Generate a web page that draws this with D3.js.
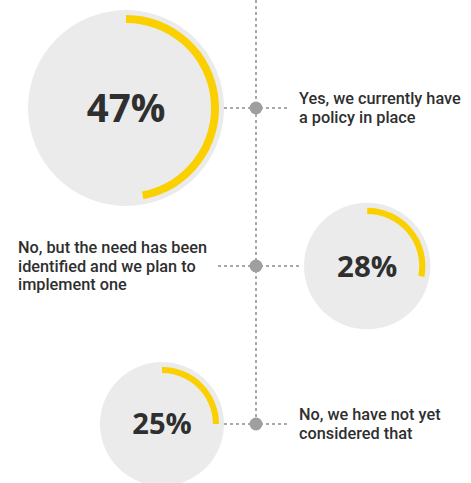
<!DOCTYPE html>
<html>
  <head>
    <meta charset="utf-8">
    <script src="https://d3js.org/d3.v7.min.js"></script>
    <title>Policy in place</title>
    <style>
      body { margin: 0px; background: #fff; }
    </style>
  </head>
  <body>
    <svg width="471" height="483"></svg>
    <script>
      // answers, top to bottom
      const answers = ['yes', 'planned', 'notYet'];
      const shares = [47, 28, 25];
      const labelLines = [
        ['Yes, we currently have', 'a policy in place'],
        ['No, but the need has been', 'identified and we plan to', 'implement one'],
        ['No, we have not yet', 'considered that']
      ];

      const svg = d3.select('svg');
      const width = +svg.attr('width');
      const height = +svg.attr('height');

      const axisX = 256;
      const gapLeft = 32, gapRight = 48;   // dot -> circle edge
      const lineH = 18.5;
      const grey = '#ebebeb', yellow = '#fad000', ink = '#2f2f2f', dash = '#a9a9a9';

      const yScale = d3.scalePoint().domain(answers).range([108, 424]);
      // circles were sized by hand in the original, not by area
      const rScale = d3.scaleLinear().domain([25, 30, 47]).range([62, 64, 98]);
      const angle = d3.scaleLinear().domain([0, 100]).range([0, 2 * Math.PI]);

      const rows = answers.map((a, i) => {
        const r = rScale(shares[i]);
        const left = i % 2 === 0;
        return {
          key: a, value: shares[i], lines: labelLines[i], r, left,
          y: yScale(a),
          cx: left ? axisX - gapLeft - r : axisX + gapRight + r
        };
      });

      // vertical dashed spine
      svg.append('line')
          .attr('x1', axisX).attr('x2', axisX)
          .attr('y1', 0).attr('y2', yScale(answers[answers.length - 1]))
          .attr('stroke', dash).attr('stroke-width', 2)
          .attr('stroke-dasharray', '3,3');

      // horizontal connectors
      svg.selectAll('line.conn').data(rows)
        .enter().append('line')
          .attr('class', 'conn')
          .attr('x1', d => d.left ? axisX - gapLeft : axisX - 38)
          .attr('x2', d => d.left ? axisX + 32 : axisX + gapRight - 2)
          .attr('y1', d => d.y).attr('y2', d => d.y)
          .attr('stroke', dash).attr('stroke-width', 2)
          .attr('stroke-dasharray', '3,3');

      svg.selectAll('circle.dot').data(rows)
        .enter().append('circle')
          .attr('class', 'dot')
          .attr('cx', axisX).attr('cy', d => d.y)
          .attr('r', 6.5)
          .attr('fill', '#9f9f9f');

      const g = svg.selectAll('g.ring').data(rows)
        .enter().append('g')
          .attr('class', 'ring')
          .attr('transform', d => `translate(${d.cx},${d.y})`);

      g.append('circle')
          .attr('r', d => d.r)
          .attr('fill', grey);

      g.append('path')
          .attr('fill', yellow)
          .attr('d', d => {
            const outer = d.r - 5;
            const thick = 3 + d.r * 0.05;
            return d3.arc()
              .innerRadius(outer - thick)
              .outerRadius(outer)
              .startAngle(0)
              .endAngle(angle(d.value))();
          });

      g.append('text')
          .attr('text-anchor', 'middle')
          .attr('dy', '0.36em')
          .attr('font-family', 'Open Sans')
          .attr('font-weight', 700)
          .attr('font-size', d => (13 + d.r * 0.26) + 'px')
          .attr('fill', ink)
          .text(d => d.value + '%');

      // labels
      svg.selectAll('text.label').data(rows)
        .enter().append('text')
          .attr('class', 'label')
          .attr('font-family', 'Roboto')
          .attr('font-weight', 500)
          .attr('font-size', '16.3px')
          .attr('fill', ink)
          .each(function(d) {
            const t = d3.select(this);
            const y0 = d.y - (d.lines.length - 1) * lineH / 2 + 5.5;
            d.lines.forEach((ln, j) => {
              t.append('tspan').attr('y', y0 + j * lineH).text(ln);
            });
            let x = axisX + 43;
            if (!d.left) {
              let w = 0;
              t.selectAll('tspan').each(function() { w = Math.max(w, this.getComputedTextLength()); });
              x = axisX - 49 - w;
            }
            t.selectAll('tspan').attr('x', x);
          });
    </script>
  </body>
</html>
